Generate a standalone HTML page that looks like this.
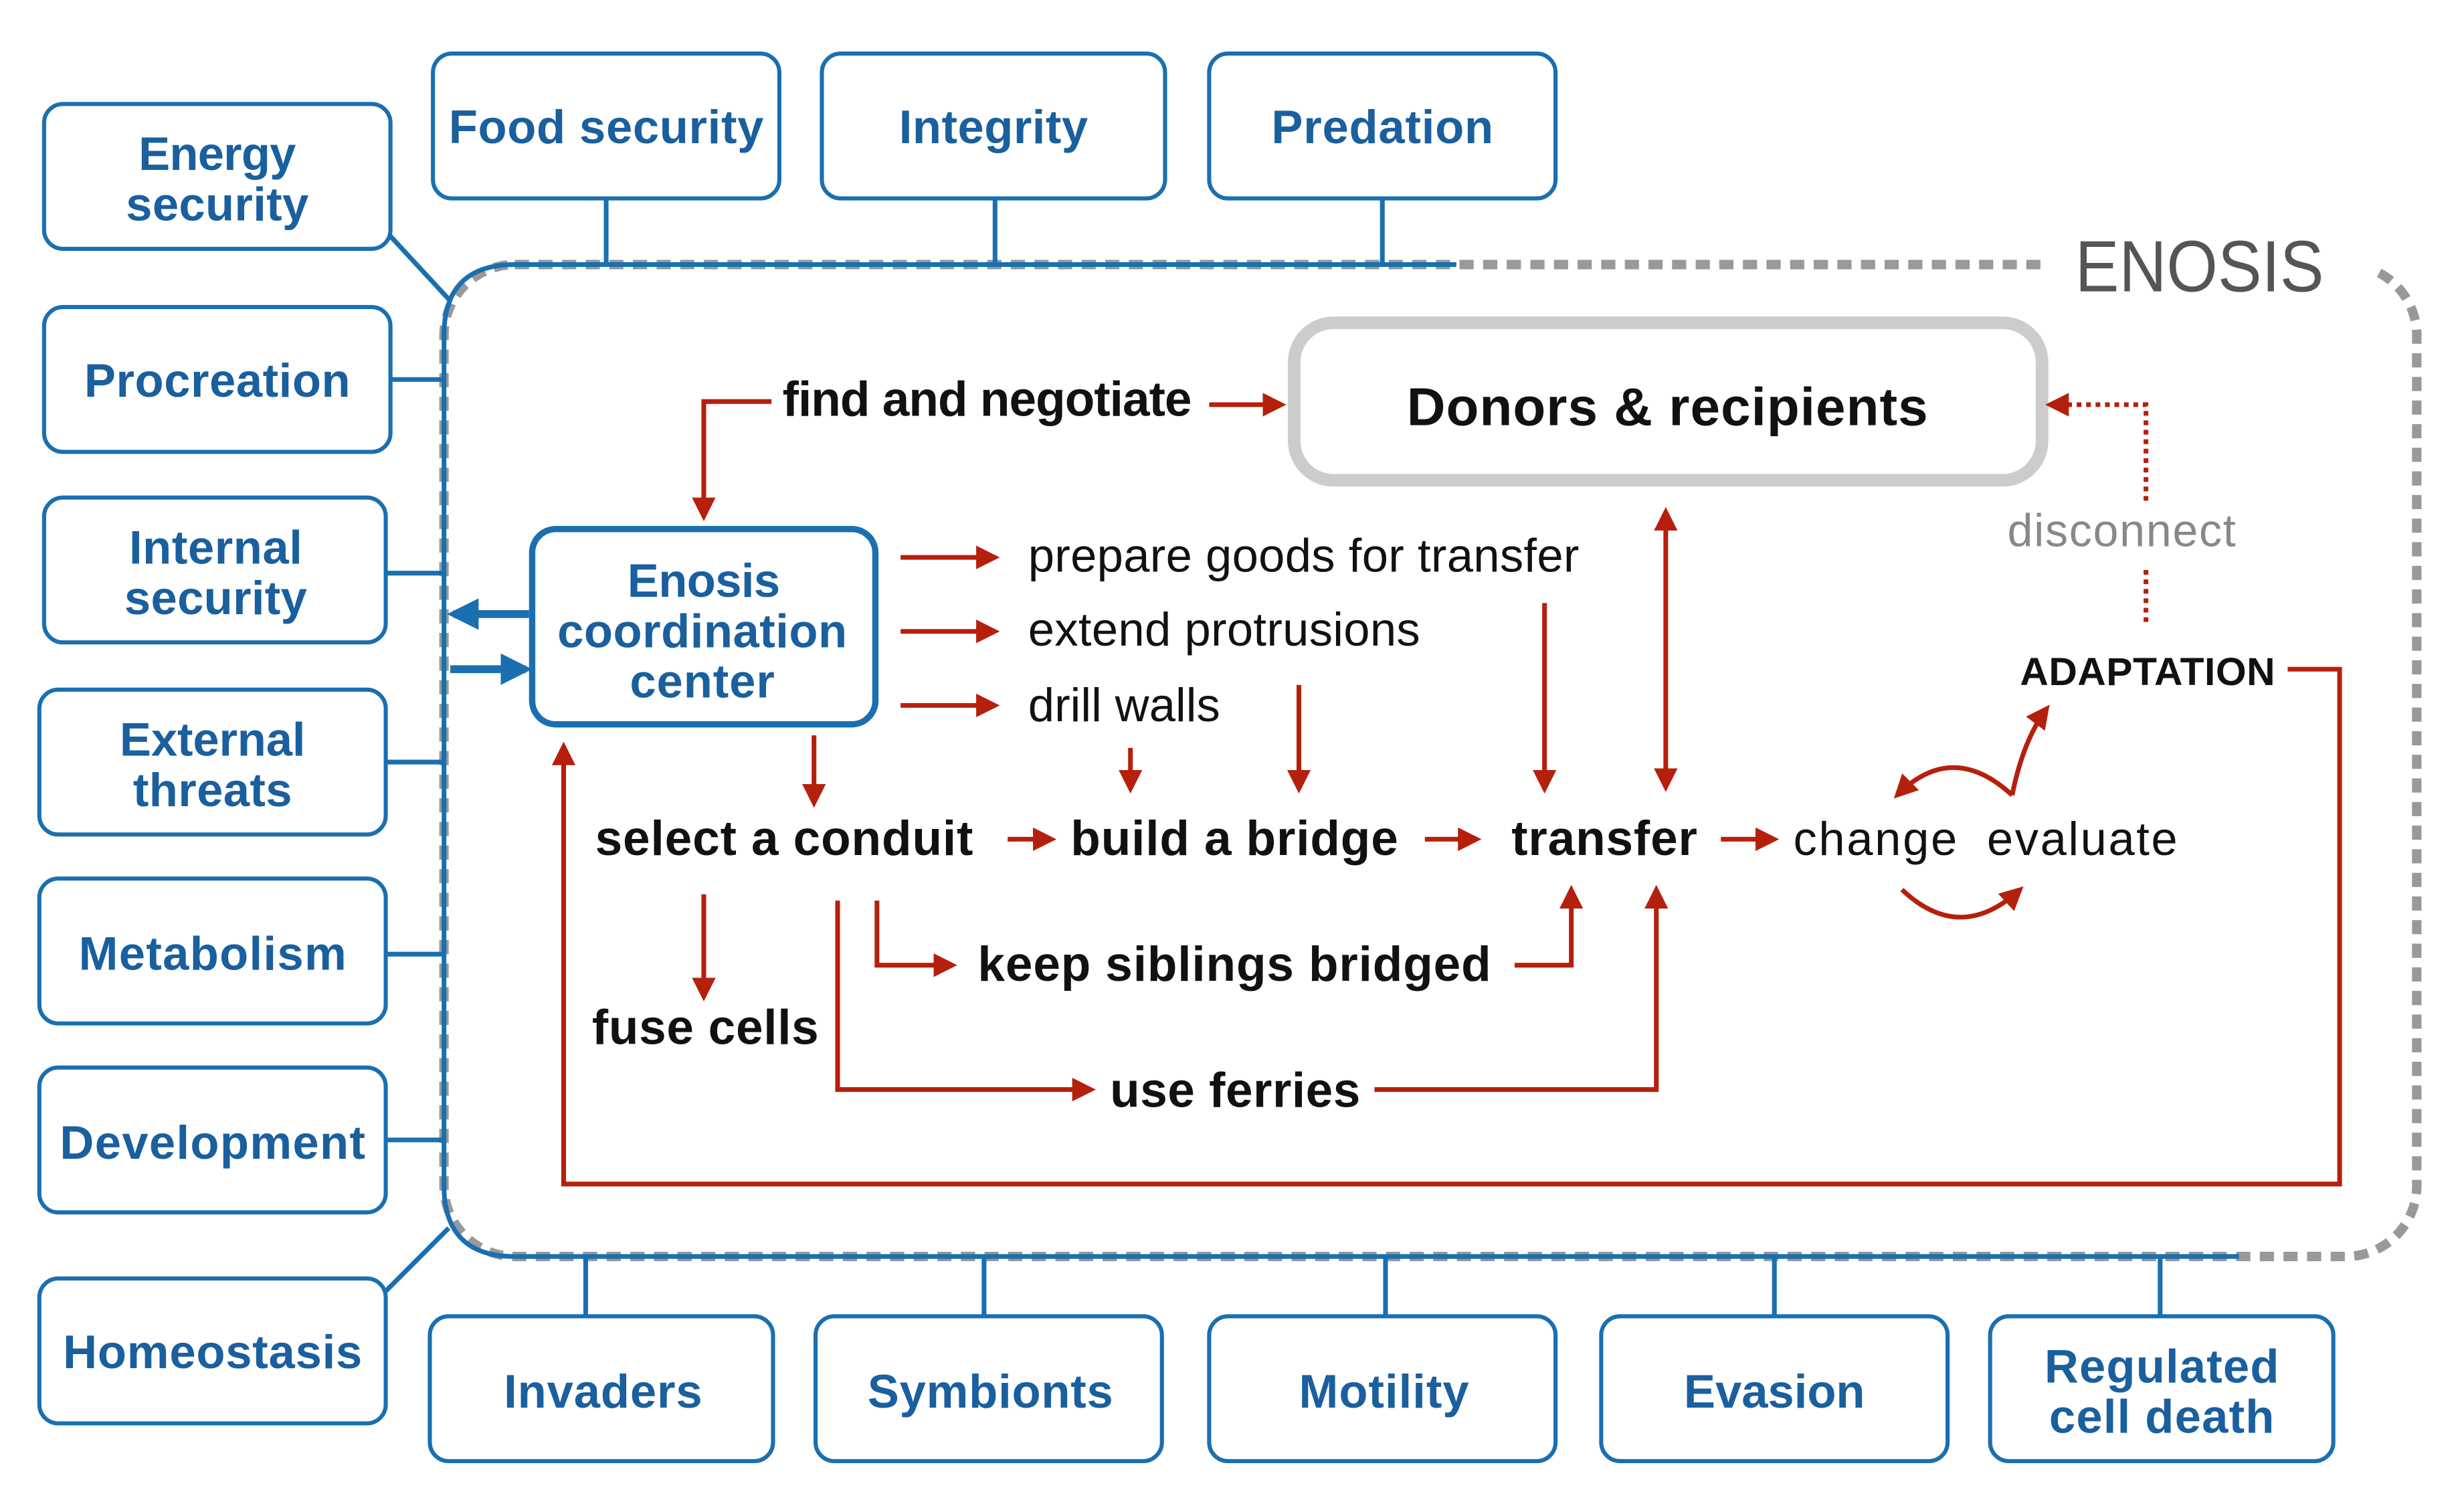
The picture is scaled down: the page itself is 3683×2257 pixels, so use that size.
<!DOCTYPE html>
<html><head><meta charset="utf-8"><style>
html,body{margin:0;padding:0;background:#fff;}
svg{display:block;}
text{font-family:"Liberation Sans",Arial,sans-serif;}
.bx{fill:#fff;stroke:#1a6fb0;stroke-width:2.6;}
.bt{fill:#1a5f9e;font-size:30px;font-weight:bold;text-anchor:middle;}
.bl{stroke:#1a6fb0;stroke-width:3;fill:none;}
.r{stroke:#b5200d;stroke-width:3;fill:none;}
.k{font-size:31px;font-weight:bold;fill:#111;}
.n{font-size:30px;fill:#111;}
</style></head><body>
<svg width="3683" height="2257" viewBox="0 0 1565 959" xmlns="http://www.w3.org/2000/svg">
<defs>
<marker id="ar" viewBox="0 0 10 10" refX="8" refY="5" markerWidth="5" markerHeight="5" orient="auto-start-reverse"><path d="M0,0 L10,5 L0,10 z" fill="#b5200d"/></marker>
<marker id="ab" viewBox="0 0 10 10" refX="8" refY="5" markerWidth="4" markerHeight="4" orient="auto"><path d="M0,0 L10,5 L0,10 z" fill="#1a6fb0"/></marker>
</defs>
<rect width="1565" height="959" fill="#fff"/>
<rect x="282" y="168" width="1253" height="630" rx="45" fill="none" stroke="#999" stroke-width="6" stroke-dasharray="9,6"/>
<path d="M925,168 L327,168 Q282,168 282,213 L282,753 Q282,798 327,798 L1422,798" class="bl" stroke-width="4"/>
<rect x="1296" y="150" width="212" height="40" fill="#fff"/>
<text x="1318" y="185" font-size="46" fill="#555" textLength="158" lengthAdjust="spacingAndGlyphs">ENOSIS</text>
<g class="bl">
<path d="M248,150 L285,190"/><path d="M248,241 L282,241"/><path d="M245,364 L282,364"/><path d="M245,484 L282,484"/>
<path d="M245,606 L282,606"/><path d="M245,724 L282,724"/><path d="M245,820 L285,780"/>
<path d="M385,126 V168"/><path d="M632,126 V168"/><path d="M878,126 V168"/>
<path d="M372,798 V836"/><path d="M625,798 V836"/><path d="M880,798 V836"/><path d="M1127,798 V836"/><path d="M1372,798 V836"/>
</g>
<g>
<rect class="bx" x="28" y="66" width="220" height="92" rx="12"/><text class="bt" x="138" y="108" textLength="100">Energy</text><text class="bt" x="138" y="140" textLength="116">security</text>
<rect class="bx" x="28" y="195" width="220" height="92" rx="12"/><text class="bt" x="138" y="252" textLength="169">Procreation</text>
<rect class="bx" x="28" y="316" width="217" height="92" rx="12"/><text class="bt" x="137" y="358" textLength="110">Internal</text><text class="bt" x="137" y="390" textLength="116">security</text>
<rect class="bx" x="25" y="438" width="220" height="92" rx="12"/><text class="bt" x="135" y="480" textLength="118">External</text><text class="bt" x="135" y="512" textLength="101">threats</text>
<rect class="bx" x="25" y="558" width="220" height="92" rx="12"/><text class="bt" x="135" y="616" textLength="170">Metabolism</text>
<rect class="bx" x="25" y="678" width="220" height="92" rx="12"/><text class="bt" x="135" y="736" textLength="194">Development</text>
<rect class="bx" x="25" y="812" width="220" height="92" rx="12"/><text class="bt" x="135" y="869" textLength="190">Homeostasis</text>
<rect class="bx" x="275" y="34" width="220" height="92" rx="12"/><text class="bt" x="385" y="91" textLength="200">Food security</text>
<rect class="bx" x="522" y="34" width="218" height="92" rx="12"/><text class="bt" x="631" y="91" textLength="120">Integrity</text>
<rect class="bx" x="768" y="34" width="220" height="92" rx="12"/><text class="bt" x="878" y="91" textLength="141">Predation</text>
<rect class="bx" x="273" y="836" width="218" height="92" rx="12"/><text class="bt" x="383" y="894" textLength="126">Invaders</text>
<rect class="bx" x="518" y="836" width="220" height="92" rx="12"/><text class="bt" x="629" y="894" textLength="156">Symbionts</text>
<rect class="bx" x="768" y="836" width="220" height="92" rx="12"/><text class="bt" x="879" y="894" textLength="108">Motility</text>
<rect class="bx" x="1017" y="836" width="220" height="92" rx="12"/><text class="bt" x="1127" y="894" textLength="115">Evasion</text>
<rect class="bx" x="1264" y="836" width="218" height="92" rx="12"/><text class="bt" x="1373" y="878" textLength="149">Regulated</text><text class="bt" x="1373" y="910" textLength="143">cell death</text>
</g>
<rect x="822" y="205" width="475" height="100" rx="25" fill="#fff" stroke="#ccc" stroke-width="8"/>
<text x="1059" y="270" font-size="34" font-weight="bold" text-anchor="middle" fill="#111" textLength="331">Donors &amp; recipients</text>
<rect x="338" y="336" width="218" height="124" rx="15" fill="#fff" stroke="#1a6fb0" stroke-width="4"/>
<text class="bt" x="447" y="379" textLength="97">Enosis</text><text class="bt" x="446" y="411" textLength="184">coordination</text><text class="bt" x="446" y="443" textLength="92">center</text>
<path d="M336,390 L288,390" stroke="#1a6fb0" stroke-width="5" marker-end="url(#ab)"/>
<path d="M286,425 L334,425" stroke="#1a6fb0" stroke-width="5" marker-end="url(#ab)"/>
<g class="r">
<path d="M490,255 H447 V328" marker-end="url(#ar)"/>
<path d="M768,257 H814" marker-end="url(#ar)"/>
<path d="M572,354 H632" marker-end="url(#ar)"/>
<path d="M572,401 H632" marker-end="url(#ar)"/>
<path d="M572,448 H632" marker-end="url(#ar)"/>
<path d="M718,475 V501" marker-end="url(#ar)"/>
<path d="M825,435 V501" marker-end="url(#ar)"/>
<path d="M981,383 V501" marker-end="url(#ar)"/>
<path d="M1058,325 V500" marker-start="url(#ar)" marker-end="url(#ar)"/>
<path d="M517,467 V510" marker-end="url(#ar)"/>
<path d="M640,533 H668" marker-end="url(#ar)"/>
<path d="M905,533 H938" marker-end="url(#ar)"/>
<path d="M1093,533 H1127" marker-end="url(#ar)"/>
<path d="M1278,505 Q1240,470 1205,505" marker-end="url(#ar)"/>
<path d="M1208,565 Q1245,600 1283,565" marker-end="url(#ar)"/>
<path d="M1278,505 Q1285,470 1300,450" marker-end="url(#ar)"/>
<path d="M1453,425 H1486 V752 H358 V474" marker-end="url(#ar)"/>
<path d="M1363,395 V360" stroke-dasharray="3,3"/>
<path d="M1363,318 V257 H1302" stroke-dasharray="3,3" marker-end="url(#ar)"/>
<path d="M447,568 V633" marker-end="url(#ar)"/>
<path d="M557,572 V613 H605" marker-end="url(#ar)"/>
<path d="M962,613 H998 V565" marker-end="url(#ar)"/>
<path d="M532,572 V692 H693" marker-end="url(#ar)"/>
<path d="M873,692 H1052 V565" marker-end="url(#ar)"/>
</g>
<text class="k" x="497" y="264" textLength="260">find and negotiate</text>
<text class="n" x="653" y="363" textLength="350">prepare goods for transfer</text>
<text class="n" x="653" y="410" textLength="249">extend protrusions</text>
<text class="n" x="653" y="458" textLength="122">drill walls</text>
<text class="k" x="378" y="543" textLength="240">select a conduit</text>
<text class="k" x="680" y="543" textLength="208">build a bridge</text>
<text class="k" x="960" y="543" textLength="118">transfer</text>
<text class="n" x="1139" y="543" textLength="104">change</text>
<text class="n" x="1262" y="543" textLength="121">evaluate</text>
<text x="1283" y="435" font-size="25" font-weight="bold" fill="#111" textLength="162">ADAPTATION</text>
<text x="1275" y="347" font-size="29" fill="#888" textLength="145">disconnect</text>
<text class="k" x="621" y="623" textLength="326">keep siblings bridged</text>
<text class="k" x="376" y="663" textLength="144">fuse cells</text>
<text class="k" x="705" y="703" textLength="159">use ferries</text>
</svg>
</body></html>
